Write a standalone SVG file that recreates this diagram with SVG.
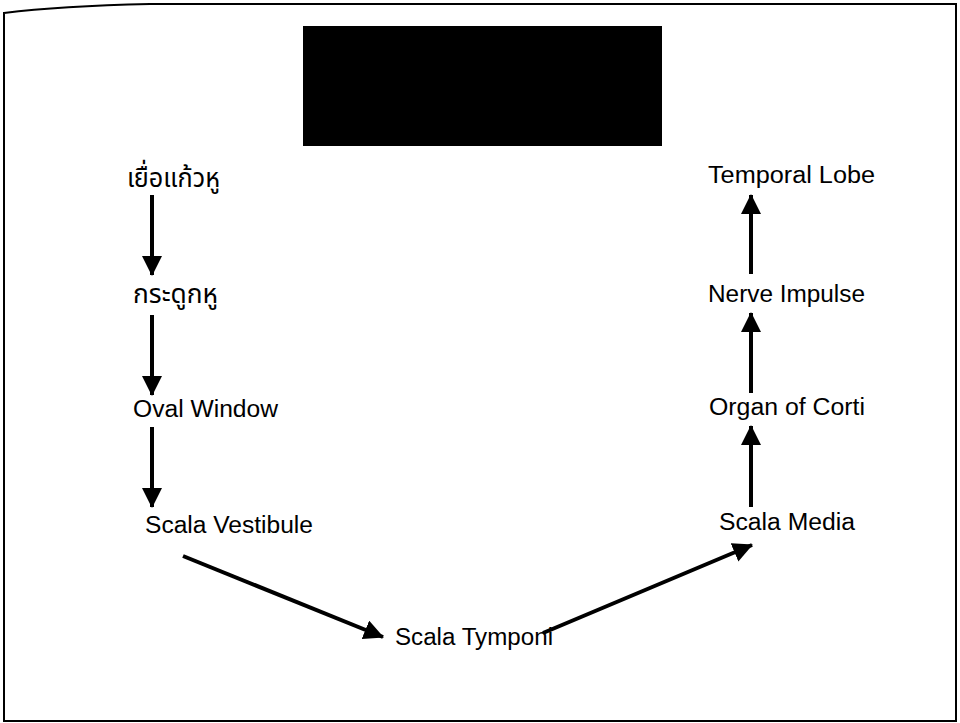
<svg xmlns="http://www.w3.org/2000/svg" width="960" height="723" viewBox="0 0 960 723">
  <style>
    .lbl { font-family: "Liberation Sans", Arial, sans-serif; font-size: 23px; fill: #000; }
    .th { font-family: "Noto Sans Thai", "Loma", "Garuda", "Norasi", "Liberation Sans", sans-serif; font-size: 27px; fill: #000; }
    .flow { stroke: #000; stroke-width: 4; fill: none; marker-end: url(#head); }
    .frame { stroke: #000; stroke-width: 2; fill: none; }
  </style>
  <defs>
    <!-- solid triangular arrowhead, tip at the line end -->
    <marker id="head" markerUnits="userSpaceOnUse" markerWidth="20" markerHeight="20" refX="19" refY="10" orient="auto">
      <path d="M0,0 L20,10 L0,20 z" fill="#000"/>
    </marker>
  </defs>

  <rect width="960" height="723" fill="#fff"/>

  <!-- page frame -->
  <path class="frame" d="M4,721 L4,13 Q60,6 150,4 L956,4 L956,721 Z"/>

  <!-- title block -->
  <rect x="303" y="26" width="359" height="120" fill="#000"/>

  <!-- nodes -->
  <g id="eardrum"><text class="th" x="127" y="187" textLength="93" lengthAdjust="spacingAndGlyphs">เยื่อแก้วหู</text></g>
  <g id="ossicles"><text class="th" x="133" y="303" textLength="85" lengthAdjust="spacingAndGlyphs">กระดูกหู</text></g>
  <g id="oval-window"><text class="lbl" x="133" y="417" textLength="145" lengthAdjust="spacingAndGlyphs">Oval Window</text></g>
  <g id="scala-vestibule"><text class="lbl" x="145" y="533" textLength="168" lengthAdjust="spacingAndGlyphs">Scala Vestibule</text></g>
  <g id="scala-tymponi"><text class="lbl" x="395" y="645" textLength="158" lengthAdjust="spacingAndGlyphs">Scala Tymponi</text></g>
  <g id="scala-media"><text class="lbl" x="719" y="530" textLength="136" lengthAdjust="spacingAndGlyphs">Scala Media</text></g>
  <g id="organ-of-corti"><text class="lbl" x="709" y="415" textLength="156" lengthAdjust="spacingAndGlyphs">Organ of Corti</text></g>
  <g id="nerve-impulse"><text class="lbl" x="708" y="302" textLength="157" lengthAdjust="spacingAndGlyphs">Nerve Impulse</text></g>
  <g id="temporal-lobe"><text class="lbl" x="708" y="183" textLength="167" lengthAdjust="spacingAndGlyphs">Temporal Lobe</text></g>

  <!-- connectors -->
  <g id="connectors">
    <line class="flow" x1="152" y1="195" x2="152" y2="275"/>
    <line class="flow" x1="152" y1="315" x2="152" y2="395"/>
    <line class="flow" x1="152" y1="427" x2="152" y2="507"/>
    <line class="flow" x1="183" y1="556" x2="383" y2="637"/>
    <line class="flow" x1="543" y1="633" x2="752" y2="545"/>
    <line class="flow" x1="751" y1="507" x2="751" y2="426"/>
    <line class="flow" x1="751" y1="393" x2="751" y2="313"/>
    <line class="flow" x1="751" y1="274" x2="751" y2="195"/>
  </g>
</svg>
